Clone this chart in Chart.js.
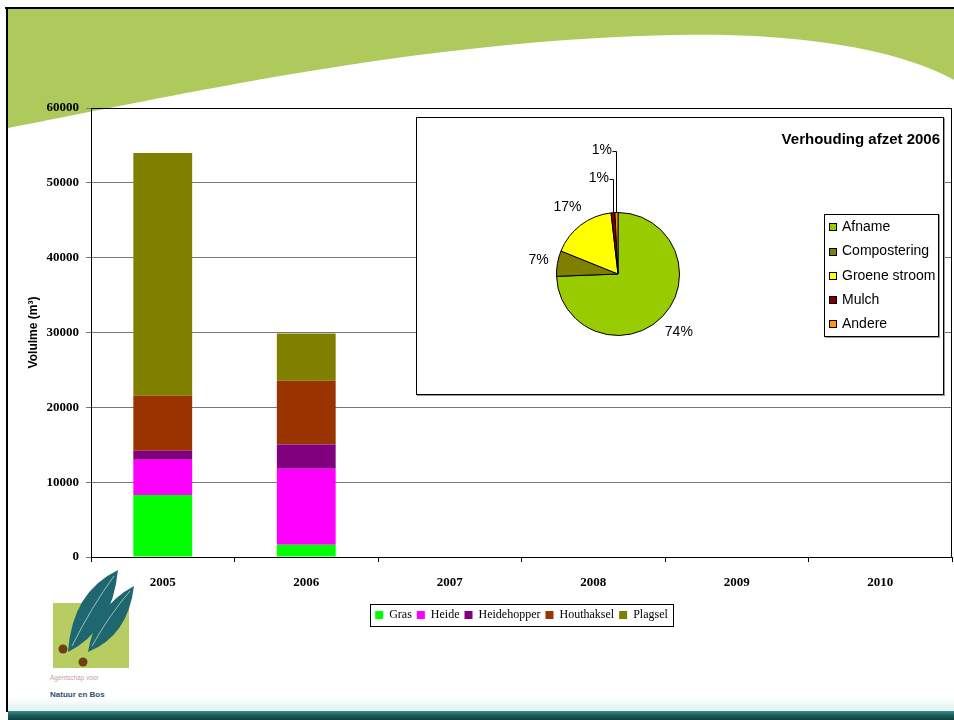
<!DOCTYPE html>
<html><head><meta charset="utf-8">
<script src="https://cdn.jsdelivr.net/npm/chart.js@4.4.1/dist/chart.umd.min.js"></script>
<style>
html,body{margin:0;padding:0;background:#fff;}
#page{position:relative;width:954px;height:720px;overflow:hidden;background:#fff;}
#bg{position:absolute;left:0;top:0;}
#bar{position:absolute;left:0;top:0;}
#pieBox{position:absolute;left:416px;top:117px;width:526px;height:276px;border:1px solid #000;background:#fff;box-shadow:1px 1px 0 #999;}
#pie{display:block;}
</style></head>
<body><div id="page">
<svg id="bg" width="954" height="720" xmlns="http://www.w3.org/2000/svg">
<defs>
<linearGradient id="band" x1="0" y1="0" x2="0" y2="1"><stop offset="0" stop-color="#3f8f88"/><stop offset="0.4" stop-color="#1d6560"/><stop offset="1" stop-color="#0e3f3c"/></linearGradient>
<linearGradient id="haze" x1="0" y1="0" x2="0" y2="1"><stop offset="0" stop-color="#ffffff"/><stop offset="1" stop-color="#dff1f0"/></linearGradient>
</defs>
<path d="M8,9 L954,9 L954,80 C910,55 820,32 675,35 C420,40 180,95 8,128 Z" fill="#AECA5C"/>
<line x1="5" y1="8" x2="954" y2="8" stroke="#000" stroke-width="2"/>
<line x1="7" y1="8" x2="7" y2="712" stroke="#000" stroke-width="2"/>
<rect x="8" y="698" width="946" height="13" fill="url(#haze)"/>
<rect x="8" y="711" width="946" height="9" fill="url(#band)"/>
<rect x="53" y="603" width="76" height="65" fill="#B7CD62"/>
<path d="M68,652 Q72,592 118,570 Q112,630 68,652 Z" fill="#1E6670"/>
<path d="M88,652 Q95,607 134,586 Q128,636 88,652 Z" fill="#1E6670"/>
<path d="M72,646 Q92,606 114,576" stroke="#9cc0b0" stroke-width="1" fill="none"/>
<path d="M92,646 Q110,614 130,591" stroke="#9cc0b0" stroke-width="1" fill="none"/>
<circle cx="63" cy="649" r="4.5" fill="#6b4015"/>
<circle cx="83" cy="662" r="4.5" fill="#6b4015"/>
<text x="50" y="680" font-size="6.5" fill="#c9a0a0" font-family="Liberation Sans">Agentschap voor</text>
<text x="50" y="697" font-size="8" font-weight="bold" fill="#2c4f7a" font-family="Liberation Sans">Natuur en Bos</text>
</svg>
<canvas id="bar" width="954" height="640"></canvas>
<div id="pieBox"><canvas id="pie" width="526" height="276"></canvas></div>
</div>
<script>
// ---- bar chart data ----
const years = ['2005','2006','2007','2008','2009','2010'];
const gras        = [8300, 1650, 0, 0, 0, 0];
const heide       = [4700, 10150, 0, 0, 0, 0];
const heidehopper = [1200, 3250, 0, 0, 0, 0];
const houthaksel  = [7350, 8500, 0, 0, 0, 0];
const plagsel     = [32450, 6300, 0, 0, 0, 0];
const seriesNames  = ['Gras','Heide','Heidehopper','Houthaksel','Plagsel'];
const seriesColors = ['#00FF00','#FF00FF','#800080','#993300','#808000'];
const yMin = 0, yMax = 60000, yStep = 10000;
const yTitle = 'Volulme (m³)';

// ---- pie chart data ----
const pieTitle  = 'Verhouding afzet 2006';
const pieLabels = ['Afname','Compostering','Groene stroom','Mulch','Andere'];
const pieValues = [74.4, 6.7, 17.1, 1.0, 0.8];
const pieColors = ['#99CC00','#808000','#FFFF00','#800000','#FF9900'];

const seriesData = [gras, heide, heidehopper, houthaksel, plagsel];

const frameAndLegendBox = {
  id:'frameAndLegendBox',
  afterDatasetsDraw(chart){
    const {ctx, chartArea:a} = chart;
    ctx.save(); ctx.strokeStyle='#000'; ctx.lineWidth=1;
    ctx.beginPath();
    ctx.moveTo(a.left, a.top+0.5); ctx.lineTo(a.right-0.5, a.top+0.5); ctx.lineTo(a.right-0.5, a.bottom);
    ctx.stroke(); ctx.restore();
  },
  afterDraw(chart){
    const lg = chart.legend; if(!lg || !lg.legendHitBoxes || !lg.legendHitBoxes.length) return;
    let l=Infinity,r=-Infinity,t=Infinity,b=-Infinity;
    lg.legendHitBoxes.forEach(h=>{l=Math.min(l,h.left);r=Math.max(r,h.left+h.width);t=Math.min(t,h.top);b=Math.max(b,h.top+h.height);});
    const ctx=chart.ctx; ctx.save(); ctx.strokeStyle='#000'; ctx.lineWidth=1;
    ctx.strokeRect(Math.round(l-5)+0.5, Math.round(t-5)+0.5, Math.round(r-l+10), Math.round(b-t+10));
    ctx.restore();
  }
};

new Chart(document.getElementById('bar'), {
  type:'bar',
  data:{
    labels: years,
    datasets: seriesNames.map((n,i)=>({label:n, data:seriesData[i], backgroundColor:seriesColors[i], borderWidth:0, barPercentage:0.41, categoryPercentage:1}))
  },
  options:{
    responsive:false, animation:false,
    layout:{padding:{top:108,right:2,left:0,bottom:9}},
    plugins:{
      legend:{position:'bottom', fullSize:false, labels:{font:{family:'Liberation Serif',size:12}, color:'#000', boxWidth:8, boxHeight:8, padding:5}},
      tooltip:{enabled:false}
    },
    scales:{
      x:{stacked:true,
        grid:{offset:true, drawOnChartArea:false, drawTicks:true, tickLength:5, color:'#000'},
        border:{color:'#000', width:1},
        ticks:{font:{family:'Liberation Serif',size:13,weight:'bold'}, color:'#000', padding:13, maxRotation:0},
        afterFit(s){ s.height = 47; }
      },
      y:{stacked:true, min:yMin, max:yMax,
        ticks:{stepSize:yStep, font:{family:'Liberation Serif',size:13,weight:'bold'}, color:'#000', padding:7, callback:v=>String(v)},
        grid:{color:'#777', tickLength:5},
        border:{color:'#000', width:1},
        title:{display:true, text:yTitle, font:{family:'Liberation Sans',size:12,weight:'bold'}, color:'#000', padding:{top:26,bottom:0}},
        afterFit(s){ s.width = 91; }
      }
    }
  },
  plugins:[frameAndLegendBox]
});

const pieDecor = {
  id:'pieDecor',
  afterDraw(chart){
    const ctx = chart.ctx;
    const meta = chart.getDatasetMeta(0);
    const ds = chart.data.datasets[0];
    const total = ds.data.reduce((s,v)=>s+v,0);
    ctx.save();
    ctx.fillStyle='#000'; ctx.font='bold 15px "Liberation Sans", Arial, sans-serif';
    ctx.textAlign='right'; ctx.textBaseline='middle';
    ctx.fillText(pieTitle, chart.width-3, 22);
    ctx.font='14px "Liberation Sans", Arial, sans-serif';
    const small=[];
    meta.data.forEach((el,i)=>{
      const mid=(el.startAngle+el.endAngle)/2;
      const dx=Math.cos(mid), dy=Math.sin(mid);
      const txt=Math.round(ds.data[i]/total*100)+'%';
      const r=el.outerRadius;
      if (ds.data[i]/total < 0.02){ small.push({el,mid,txt,r}); return; }
      const w=ctx.measureText(txt).width, h=14;
      const ext=Math.abs(dx)*w/2+Math.abs(dy)*h/2;
      const R=r+8+ext;
      ctx.textAlign='center'; ctx.textBaseline='middle';
      ctx.fillText(txt, el.x+dx*R, el.y+dy*R);
    });
    small.sort((a,b)=>a.mid-b.mid);
    small.forEach((s,j)=>{
      const x0=s.el.x+s.r*Math.cos(s.mid), y0=s.el.y+s.r*Math.sin(s.mid);
      const ly=s.el.y-s.r-34-j*28;
      ctx.strokeStyle='#000'; ctx.lineWidth=1;
      ctx.beginPath(); ctx.moveTo(Math.round(x0)+0.5,y0); ctx.lineTo(Math.round(x0)+0.5,Math.round(ly)+0.5); ctx.lineTo(Math.round(x0)-3.5,Math.round(ly)+0.5); ctx.stroke();
      ctx.textAlign='right'; ctx.textBaseline='middle';
      ctx.fillText(s.txt, Math.round(x0)-4, ly);
    });
    const lx=407, ly0=96, lw=115, lh=123;
    ctx.fillStyle='#999'; ctx.fillRect(lx+1, ly0+lh, lw, 1); ctx.fillRect(lx+lw, ly0+1, 1, lh);
    ctx.strokeStyle='#000'; ctx.strokeRect(lx+0.5, ly0+0.5, lw-1, lh-1);
    chart.data.labels.forEach((lab,i)=>{
      const cy=ly0+13.3+i*24.2;
      ctx.fillStyle=ds.backgroundColor[i];
      ctx.fillRect(412, Math.round(cy-4), 8, 8);
      ctx.strokeStyle='#000'; ctx.strokeRect(412.5, Math.round(cy-4)+0.5, 7, 7);
      ctx.fillStyle='#000'; ctx.textAlign='left'; ctx.textBaseline='middle';
      ctx.fillText(lab, 425, cy);
    });
    ctx.restore();
  }
};

new Chart(document.getElementById('pie'), {
  type:'pie',
  data:{labels:pieLabels, datasets:[{data:pieValues, backgroundColor:pieColors, borderColor:'#000', borderWidth:1}]},
  options:{
    responsive:false, animation:false,
    layout:{padding:{left:139, top:94, right:263, bottom:58}},
    plugins:{legend:{display:false}, tooltip:{enabled:false}}
  },
  plugins:[pieDecor]
});
</script>
</body></html>
